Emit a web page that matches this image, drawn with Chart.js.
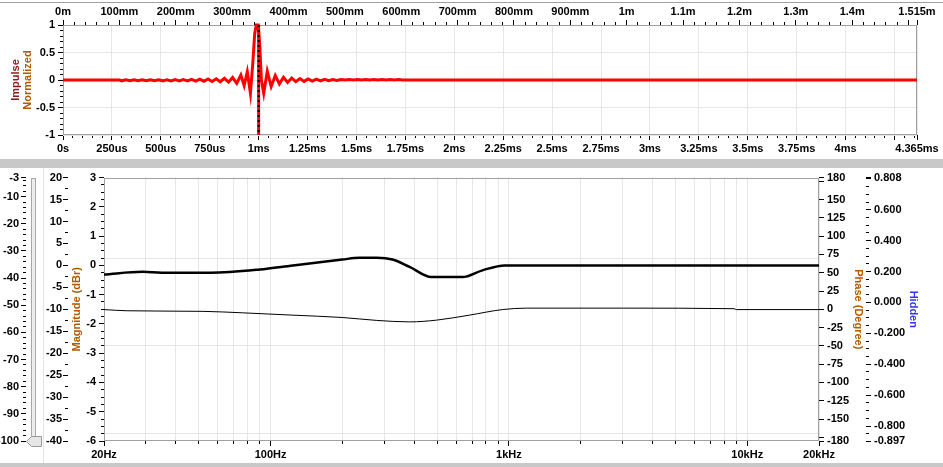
<!DOCTYPE html>
<html>
<head>
<meta charset="utf-8">
<script src="https://cdn.jsdelivr.net/npm/chart.js@4.4.1/dist/chart.umd.min.js"></script>
<style>
  html, body { margin: 0; padding: 0; background: #fff; }
  body { width: 943px; height: 467px; position: relative; overflow: hidden; }
  canvas { position: absolute; left: 0; }
  #topLine { position: absolute; left: 0; top: 2px; width: 943px; height: 1px; background: #a0a0a0; }
  #band1 { position: absolute; left: 0; top: 159px; width: 943px; height: 9px; background: #c8c8c8; }
  #band2 { position: absolute; left: 0; top: 463px; width: 943px; height: 4px; background: #c8c8c8; }
  #sep { position: absolute; left: 43px; top: 168px; width: 1px; height: 295px; background: #e3e3e3; }
  #slider { position: absolute; left: 24px; top: 176px; }
</style>
</head>
<body>
<div id="topLine"></div>
<canvas id="impulse" width="943" height="159" style="top:0"></canvas>
<div id="band1"></div>
<canvas id="freq" width="943" height="295" style="top:168px"></canvas>
<div id="sep"></div>
<svg id="slider" width="20" height="275">
  <rect x="7.5" y="2.5" width="4" height="258" fill="#ededed" stroke="#a8a8a8"/>
  <polygon points="2.5,265.5 7.5,260.5 17.5,260.5 17.5,270.5 7.5,270.5" fill="#e6e6e6" stroke="#9a9a9a"/>
</svg>
<div id="band2"></div>
<script>
// impulse response, time in ms
const impulseTime = [0, 0.29, 0.3, 0.321, 0.342, 0.363, 0.384, 0.405, 0.426, 0.447, 0.468, 0.489, 0.51, 0.531,
  0.552, 0.573, 0.594, 0.615, 0.636, 0.657, 0.678, 0.699, 0.72, 0.741, 0.762, 0.783, 0.804, 0.825, 0.846,
  0.867, 0.888, 0.909, 0.926, 0.942, 0.958, 0.97, 0.98, 0.988, 0.998, 1.006, 1.014, 1.026, 1.044, 1.064,
  1.085, 1.106, 1.127, 1.148, 1.169, 1.19, 1.211, 1.232, 1.253, 1.274, 1.295, 1.316, 1.337, 1.358, 1.379,
  1.4, 1.421, 1.442, 1.463, 1.484, 1.505, 1.526, 1.547, 1.568, 1.589, 1.61, 1.631, 1.652, 1.673, 1.694,
  1.715, 1.736, 1.75, 4.365];
const impulseValue = [0, 0, -0.015, 0.004, -0.015, 0.004, -0.015, 0.004, -0.015, 0.004, -0.015, 0.004, -0.015, 0.005,
  -0.016, 0.006, -0.017, 0.008, -0.018, 0.01, -0.02, 0.014, -0.022, 0.018, -0.026, 0.022, -0.032, 0.03, -0.04,
  0.045, -0.06, 0.09, -0.1, 0.15, -0.24, 0.3, 0.85, 1, 1, 0.6, 0, -0.24, 0.16, -0.12,
  0.08, -0.07, 0.05, -0.045, 0.035, -0.03, 0.025, -0.025, 0.02, -0.02, 0.016, -0.016, 0.012, -0.012, 0.01,
  -0.01, 0.01, 0, 0.01, 0, 0.01, 0, 0.01, 0, 0.01, 0, 0.01, 0, 0.01, 0,
  0.01, 0, 0, 0];
const markerTime = 1.0;

// magnitude curves, Hz / dB
const freqA = [20, 29, 35, 56, 90, 124, 200, 236, 279, 325, 383, 473, 638, 774, 960, 1050, 20000];
const magA = [-0.31, -0.22, -0.25, -0.25, -0.14, 0, 0.2, 0.26, 0.26, 0.2, -0.05, -0.4, -0.4, -0.17, 0, 0, 0];
const freqB = [20, 25, 52, 76, 124, 200, 279, 383, 497, 682, 939, 1184, 3000, 8800, 9000, 20000];
const magB = [-1.51, -1.55, -1.57, -1.62, -1.7, -1.78, -1.88, -1.93, -1.87, -1.7, -1.51, -1.46, -1.46, -1.48, -1.51, -1.51];

// tick labels
const timeTicks = [0, 0.25, 0.5, 0.75, 1, 1.25, 1.5, 1.75, 2, 2.25, 2.5, 2.75, 3, 3.25, 3.5, 3.75, 4, 4.25, 4.365];
const timeLabels = ['0s', '250us', '500us', '750us', '1ms', '1.25ms', '1.5ms', '1.75ms', '2ms', '2.25ms', '2.5ms',
  '2.75ms', '3ms', '3.25ms', '3.5ms', '3.75ms', '4ms', '', '4.365ms'];
const distTicks = [0, 0.1, 0.2, 0.3, 0.4, 0.5, 0.6, 0.7, 0.8, 0.9, 1, 1.1, 1.2, 1.3, 1.4, 1.5, 1.515];
const distLabels = ['0m', '100mm', '200mm', '300mm', '400mm', '500mm', '600mm', '700mm', '800mm', '900mm',
  '1m', '1.1m', '1.2m', '1.3m', '1.4m', '', '1.515m'];
const impTicks = [1, 0.5, 0, -0.5, -1];
const impLabels = ['1', '0.5', '0', '-0.5', '-1'];
const freqTicks = [20, 100, 1000, 10000, 20000];
const freqLabels = ['20Hz', '100Hz', '1kHz', '10kHz', '20kHz'];
const sliderTicks = [-3, -10, -20, -30, -40, -50, -60, -70, -80, -90, -100];
const sliderLabels = ['-3', '-10', '-20', '-30', '-40', '-50', '-60', '-70', '-80', '-90', '-100'];
const dbTicks = [20, 15, 10, 5, 0, -5, -10, -15, -20, -25, -30, -35, -40];
const dbLabels = ['20', '15', '10', '5', '0', '-5', '-10', '-15', '-20', '-25', '-30', '-35', '-40'];
const magTicks = [3, 2, 1, 0, -1, -2, -3, -4, -5, -6];
const magLabels = ['3', '2', '1', '0', '-1', '-2', '-3', '-4', '-5', '-6'];
const magGrid = [0.25, -2.75, -5.75];
const phaseTicks = [180, 175, 150, 125, 100, 75, 50, 25, 0, -25, -50, -75, -100, -125, -150, -175, -180];
const phaseLabels = ['180', '', '150', '125', '100', '75', '50', '25', '0', '-25', '-50', '-75', '-100', '-125',
  '-150', '', '-180'];
const hiddenTicks = [0.808, 0.8, 0.6, 0.4, 0.2, 0, -0.2, -0.4, -0.6, -0.8, -0.897];
const hiddenLabels = ['0.808', '', '0.600', '0.400', '0.200', '0.000', '-0.200', '-0.400', '-0.600', '-0.800', '-0.897'];

function minorTicks(from, to, step, bigEvery) {
  const out = [];
  const n = Math.round((to - from) / step);
  for (let i = 0; i <= n; i++) {
    if (i % bigEvery !== 0) out.push(+(from + i * step).toFixed(6));
  }
  return out;
}

const freqMinor = [];
[10, 100, 1000].forEach(function (d) {
  for (let k = 2; k <= 9; k++) if (d * k > 20) freqMinor.push(d * k);
});

const tickFont = { family: 'Liberation Sans, Arial, sans-serif', size: 11, weight: 'bold' };
const titleFont = { family: 'Liberation Sans, Arial, sans-serif', size: 11, weight: 'bold' };

function makeAxis(o) {
  const vertical = o.position === 'left' || o.position === 'right';
  const inward = o.position === 'left' || o.position === 'top';
  return {
    type: o.type || 'linear',
    position: o.position,
    min: o.min,
    max: o.max,
    afterBuildTicks: function (scale) {
      const all = o.big.map(v => ({ value: v, big: true }))
        .concat((o.small || []).map(v => ({ value: v, big: false })));
      all.sort((a, b) => a.value - b.value);
      scale.ticks = all;
    },
    afterFit: function (scale) {
      if (vertical) scale.width = o.size; else scale.height = o.size;
    },
    border: { display: false },
    grid: {
      drawOnChartArea: !!o.grid,
      drawTicks: o.ticks !== false,
      color: c => (o.grid && c.tick && (o.gridAll || c.tick.big) ? '#e6e6e6' : 'rgba(0,0,0,0)'),
      tickColor: '#000',
      tickLength: 5,
      tickBorderDash: c => (c.tick && c.tick.big ? [] : (inward ? [0, 2, 3, 20] : [3, 20]))
    },
    ticks: {
      display: o.ticks !== false,
      autoSkip: false,
      maxRotation: 0,
      minRotation: 0,
      padding: o.pad,
      color: '#000',
      font: tickFont,
      callback: function (v) {
        const i = o.big.findIndex(t => Math.abs(t - v) < 1e-6);
        return i < 0 ? '' : o.labels[i];
      }
    },
    title: o.title
      ? { display: true, text: o.title, color: o.titleColor, font: titleFont, padding: { top: o.titlePad, bottom: 0 } }
      : { display: false }
  };
}

const frame = {
  id: 'frame',
  beforeDatasetsDraw(chart) {
    const { ctx, chartArea: a } = chart;
    ctx.save();
    ctx.strokeStyle = '#a0a0a0';
    ctx.lineWidth = 1;
    ctx.strokeRect(Math.round(a.left) + 0.5, Math.round(a.top) + 0.5,
      Math.round(a.right - a.left) - 1, Math.round(a.bottom - a.top) - 1);
    ctx.restore();
  }
};

new Chart(document.getElementById('impulse'), {
  type: 'line',
  data: {
    datasets: [{
      data: impulseTime.map((t, i) => ({ x: t, y: impulseValue[i] })),
      borderColor: '#ff0000',
      borderWidth: 3,
      clip: 3,
      order: 3
    }, {
      data: [{ x: markerTime, y: 1 }, { x: markerTime, y: -1 }],
      borderColor: '#ff0000',
      borderWidth: 3,
      clip: 3,
      order: 2
    }, {
      data: [{ x: markerTime, y: 1 }, { x: markerTime, y: -1 }],
      borderColor: '#000',
      borderWidth: 2,
      borderDash: [2, 3],
      clip: 3,
      order: 1
    }]
  },
  options: {
    responsive: false,
    animation: false,
    devicePixelRatio: 1,
    layout: { padding: { left: 0, right: 26, top: 0, bottom: 0 } },
    elements: { point: { radius: 0 }, line: { tension: 0 } },
    plugins: { legend: { display: false }, tooltip: { enabled: false } },
    scales: {
      x: makeAxis({ position: 'bottom', min: 0, max: 4.365, big: timeTicks, labels: timeLabels,
        small: minorTicks(0, 4.35, 0.05, 5), size: 24, pad: 2, grid: true }),
      xd: makeAxis({ position: 'top', min: 0, max: 1.515, big: distTicks, labels: distLabels,
        small: minorTicks(0, 1.5, 0.02, 5), size: 25, pad: 1 }),
      y: makeAxis({ position: 'left', min: -1, max: 1, big: impTicks, labels: impLabels,
        small: minorTicks(-1, 1, 0.1, 5), size: 42, pad: 3, grid: true,
        title: 'Normalized', titleColor: '#b35900', titlePad: 0 }),
      y2: makeAxis({ position: 'left', min: -1, max: 1, big: [], labels: [], size: 21, ticks: false,
        title: 'Impulse', titleColor: '#8b1a1a', titlePad: 9 })
    }
  },
  plugins: [frame]
});

new Chart(document.getElementById('freq'), {
  type: 'line',
  data: {
    datasets: [{
      data: freqA.map((f, i) => ({ x: f, y: magA[i] })),
      borderColor: '#000',
      borderWidth: 2.5,
      cubicInterpolationMode: 'monotone',
      yAxisID: 'y'
    }, {
      data: freqB.map((f, i) => ({ x: f, y: magB[i] })),
      borderColor: '#000',
      borderWidth: 1,
      cubicInterpolationMode: 'monotone',
      yAxisID: 'y'
    }]
  },
  options: {
    responsive: false,
    animation: false,
    devicePixelRatio: 1,
    layout: { padding: { left: 0, right: 22, top: 9, bottom: 0 } },
    elements: { point: { radius: 0 }, line: { tension: 0.4 } },
    plugins: { legend: { display: false }, tooltip: { enabled: false } },
    scales: {
      x: makeAxis({ type: 'logarithmic', position: 'bottom', min: 20, max: 20000, big: freqTicks,
        labels: freqLabels, small: freqMinor, size: 22, pad: 2, grid: true, gridAll: true }),
      y: makeAxis({ position: 'left', min: -6, max: 3, big: magTicks, labels: magLabels,
        small: minorTicks(-6, 3, 0.25, 4), size: 36, pad: 3,
        title: 'Magnitude (dBr)', titleColor: '#b35900', titlePad: 2 }),
      db: makeAxis({ position: 'left', min: -40, max: 20, big: dbTicks, labels: dbLabels,
        small: minorTicks(-40, 20, 2.5, 2), size: 42, pad: 1 }),
      slider: makeAxis({ position: 'left', min: -100, max: -3, big: sliderTicks, labels: sliderLabels,
        small: minorTicks(-100, -4, 2, 5), size: 26, pad: 2 }),
      phase: makeAxis({ position: 'right', min: -180, max: 180, big: phaseTicks, labels: phaseLabels,
        size: 47, pad: 3, title: 'Phase (Degree)', titleColor: '#b35900', titlePad: 1 }),
      hidden: makeAxis({ position: 'right', min: -0.897, max: 0.808, big: hiddenTicks, labels: hiddenLabels,
        small: minorTicks(-0.8, 0.8, 0.05, 4).concat([-0.85]), size: 55, pad: 3,
        title: 'Hidden', titleColor: '#3333ff', titlePad: 1 }),
      gy: makeAxis({ position: 'left', min: -6, max: 3, big: magGrid, labels: ['', '', ''], size: 0,
        ticks: false, grid: true })
    }
  },
  plugins: [frame]
});
</script>
</body>
</html>
